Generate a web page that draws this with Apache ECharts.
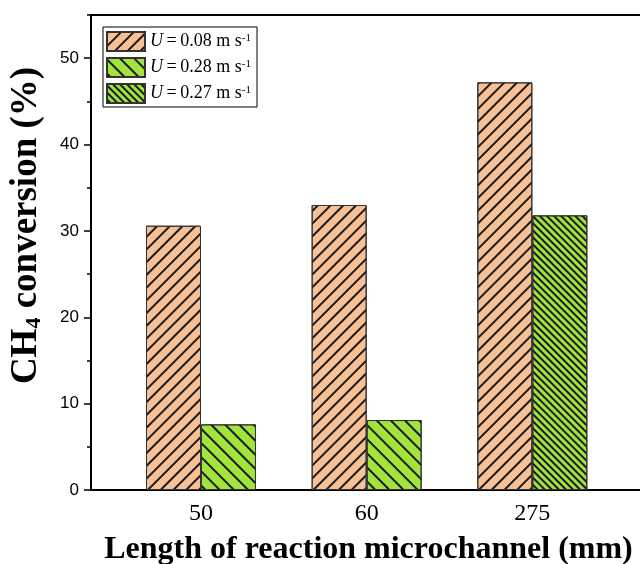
<!DOCTYPE html>
<html>
<head>
<meta charset="utf-8">
<script src="https://cdn.jsdelivr.net/npm/echarts@6/dist/echarts.min.js"></script>
<style>
  html, body { margin: 0; padding: 0; background: #fff; }
  #chart { width: 640px; height: 564px; }
</style>
</head>
<body>
<div id="chart"></div>
<script>
// channel lengths (mm)
var lengths = ['50', '60', '275']
// superficial velocities shown in the legend
var speeds = ['0.08', '0.28', '0.27']
// CH4 conversion (%)
var conv008 = [30.6, 33.0, 47.2]
var conv028 = [7.6, 8.1, null]
var conv027 = [null, null, 31.8]
var yTicks = [0, 10, 20, 30, 40, 50]

var names = speeds.map(function (s) { return 'U = ' + s + ' m s-1' })

function points (arr) {
  return arr.map(function (v, i) { return [i + 1, v == null ? '-' : v] })
}

var serif = 'Liberation Serif'
var chart = echarts.init(document.getElementById('chart'))

function hatch (rot, gap) {
  return {
    symbol: 'rect',
    symbolSize: 1,
    color: '#1a1a1a',
    dashArrayX: [1, 0],
    dashArrayY: [1.2, gap],
    rotation: rot
  }
}

chart.setOption({
  animation: false,
  grid: {
    left: 91,
    top: 15,
    width: 607,
    bottom: 74,
    show: true,
    borderColor: '#000',
    borderWidth: 2,
    outerBoundsMode: 'none'
  },
  legend: {
    orient: 'vertical',
    left: 103,
    top: 27,
    icon: 'rect',
    itemWidth: 38,
    itemHeight: 19,
    itemGap: 5,
    padding: [4, 6, 3, 3],
    borderColor: '#000',
    borderWidth: 1,
    data: names,
    formatter: function (name) {
      var s = speeds[names.indexOf(name)]
      return '{i|U}\u2009=\u2009' + s + ' m s{sup|-1}'
    },
    textStyle: {
      fontFamily: serif,
      fontSize: 18,
      color: '#000',
      rich: {
        i: { fontFamily: serif, fontSize: 18, fontStyle: 'italic', color: '#000' },
        sup: { fontFamily: serif, fontSize: 11, color: '#000', verticalAlign: 'top' }
      }
    }
  },
  xAxis: {
    type: 'value',
    min: 0.336,
    max: 4,
    splitLine: { show: false },
    axisTick: { show: false },
    axisLine: { lineStyle: { color: '#000', width: 2 } },
    axisLabel: {
      customValues: [1, 2, 3],
      formatter: function (v) { return lengths[Math.round(v) - 1] || '' },
      fontFamily: serif,
      fontSize: 24,
      color: '#000',
      margin: 12
    },
    name: 'Length of reaction microchannel (mm)',
    nameLocation: 'middle',
    nameGap: 44,
    nameTextStyle: {
      fontFamily: serif,
      fontWeight: 'bold',
      fontSize: 32,
      color: '#000',
      padding: [0, 52, 0, 0]
    }
  },
  yAxis: [
    {
      type: 'value',
      min: 0,
      max: 55,
      interval: 10,
      splitLine: { show: false },
      axisLine: { show: true, lineStyle: { color: '#000', width: 2 } },
      axisTick: { show: true, length: 7, lineStyle: { color: '#000', width: 1.5 } },
      axisLabel: {
        showMaxLabel: false,
        fontFamily: 'Liberation Sans',
        fontSize: 17,
        color: '#000',
        margin: 12,
        formatter: function (v) { return yTicks.indexOf(v) >= 0 ? String(v) : '' }
      },
      name: '{b|CH}{s|4}{b| conversion (%)}',
      nameLocation: 'middle',
      nameGap: 46,
      nameTextStyle: {
        padding: [0, 0, 0, 54],
        rich: {
          b: { fontFamily: serif, fontWeight: 'bold', fontSize: 37, color: '#000' },
          s: { fontFamily: serif, fontWeight: 'bold', fontSize: 22, color: '#000', verticalAlign: 'bottom', padding: [10, 0, 0, 0] }
        }
      }
    },
    {
      type: 'value',
      min: 0,
      max: 55,
      interval: 5,
      position: 'left',
      splitLine: { show: false },
      axisLine: { show: false },
      axisTick: { show: true, length: 4, lineStyle: { color: '#000', width: 1.5 } },
      axisLabel: { show: false }
    }
  ],
  series: [
    {
      name: names[0],
      type: 'bar',
      barWidth: 55,
      barGap: '0%',
      data: points(conv008),
      itemStyle: {
        color: '#F8C195',
        borderColor: '#333',
        borderWidth: 1,
        decal: hatch(-Math.PI / 4, 7)
      }
    },
    {
      name: names[1],
      type: 'bar',
      stack: 'green',
      barWidth: 55,
      barGap: '0%',
      data: points(conv028),
      itemStyle: {
        color: '#A2E43C',
        borderColor: '#333',
        borderWidth: 1,
        decal: hatch(Math.PI / 4, 7.5)
      }
    },
    {
      name: names[2],
      type: 'bar',
      stack: 'green',
      barWidth: 55,
      barGap: '0%',
      data: points(conv027),
      itemStyle: {
        color: '#A2E43C',
        borderColor: '#333',
        borderWidth: 1,
        decal: hatch(Math.PI / 4, 3)
      }
    }
  ]
})
</script>
</body>
</html>
